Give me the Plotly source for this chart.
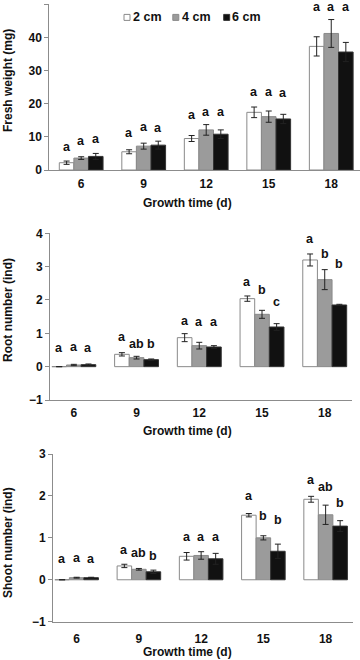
import plotly.graph_objects as go

days = ["6", "9", "12", "15", "18"]
series = ["2 cm", "4 cm", "6 cm"]

# Fresh weight (mg)
fw_2 = [2.2, 5.5, 9.5, 17.4, 37.3]
fw_4 = [3.6, 7.2, 12.1, 16.1, 41.2]
fw_6 = [4.1, 7.5, 10.8, 15.4, 35.6]
fw_2_err = [0.5, 0.6, 0.9, 1.6, 2.9]
fw_4_err = [0.4, 0.9, 1.6, 1.7, 4.2]
fw_6_err = [0.9, 1.2, 1.3, 1.4, 2.9]
fw_letters = [["a", "a", "a", "a", "a"], ["a", "a", "a", "a", "a"], ["a", "a", "a", "a", "a"]]
fw_letter_y = [[6.9, 11.2, 16.7, 23.5, 49.1], [8.7, 13.1, 17.5, 23.5, 49.1], [9.4, 12.6, 17.5, 23.3, 49.1]]

# Root number (ind)
rn_2 = [0.0, 0.37, 0.87, 2.04, 3.2]
rn_4 = [0.05, 0.27, 0.63, 1.57, 2.61]
rn_6 = [0.06, 0.21, 0.59, 1.19, 1.85]
rn_2_err = [0.0, 0.05, 0.12, 0.08, 0.18]
rn_4_err = [0.02, 0.04, 0.10, 0.12, 0.30]
rn_6_err = [0.02, 0.02, 0.04, 0.10, 0.02]
rn_letters = [["a", "a", "a", "a", "a"], ["a", "ab", "a", "b", "b"], ["a", "b", "a", "c", "b"]]
rn_letter_y = [[0.57, 0.90, 1.36, 2.55, 3.84], [0.60, 0.68, 1.33, 2.31, 3.39], [0.57, 0.68, 1.33, 1.95, 3.07]]

# Shoot number (ind)
sn_2 = [0.0, 0.33, 0.56, 1.54, 1.92]
sn_4 = [0.05, 0.25, 0.58, 1.0, 1.55]
sn_6 = [0.05, 0.19, 0.50, 0.68, 1.28]
sn_2_err = [0.0, 0.04, 0.09, 0.04, 0.07]
sn_4_err = [0.01, 0.02, 0.09, 0.05, 0.23]
sn_6_err = [0.01, 0.04, 0.13, 0.17, 0.13]
sn_letters = [["a", "a", "a", "a", "a"], ["a", "ab", "a", "b", "ab"], ["a", "b", "a", "b", "b"]]
sn_letter_y = [[0.49, 0.72, 1.02, 2.0, 2.37], [0.52, 0.63, 1.02, 1.52, 2.22], [0.49, 0.57, 1.02, 1.42, 1.82]]

fills = ["#ffffff", "#9b9b9b", "#111111"]
outlines = ["#8a8a8a", "#8a8a8a", "#333333"]
FONT = "Liberation Sans"
TXT = "#111111"

W, H = 360, 660
panels = [
    dict(vals=[fw_2, fw_4, fw_6], errs=[fw_2_err, fw_4_err, fw_6_err], letters=fw_letters, ly=fw_letter_y,
         ytitle="Fresh weight (mg)", yrange=[0, 50], dtick=10, ytitle_px=81, xtitle_px=203, xlab_len=3,
         ydom=[1 - 170 / H, 1 - 4.3 / H], xpx=[49.3, 360], xrange=[-0.51, 4.46]),
    dict(vals=[rn_2, rn_4, rn_6], errs=[rn_2_err, rn_4_err, rn_6_err], letters=rn_letters, ly=rn_letter_y,
         ytitle="Root number (ind)", yrange=[-1, 4], dtick=1, ytitle_px=310, xtitle_px=431, xlab_len=2,
         ydom=[1 - 400 / H, 1 - 233.3 / H], xpx=[50, 351.7], xrange=[-0.38, 4.43]),
    dict(vals=[sn_2, sn_4, sn_6], errs=[sn_2_err, sn_4_err, sn_6_err], letters=sn_letters, ly=sn_letter_y,
         ytitle="Shoot number (ind)", yrange=[-1, 3], dtick=1, ytitle_px=543, xtitle_px=652, xlab_len=6,
         ydom=[1 - 621.7 / H, 1 - 454 / H], xpx=[53, 353], xrange=[-0.38, 4.44]),
]

fig = go.Figure()
annotations = []
shapes = []
bargap = 0.3
for p_i, p in enumerate(panels):
    sfx = "" if p_i == 0 else str(p_i + 1)
    xa, ya = "x" + sfx, "y" + sfx
    for s_i in range(3):
        fig.add_trace(go.Bar(
            x=days, y=p["vals"][s_i], name=series[s_i],
            marker=dict(color=fills[s_i], line=dict(color=outlines[s_i], width=1)),
            error_y=dict(type="data", array=p["errs"][s_i], color="#222222", thickness=1, width=3),
            xaxis=xa, yaxis=ya, showlegend=False, legendgroup=series[s_i],
        ))
    w = (1 - bargap) / 3
    for s_i in range(3):
        for d_i in range(len(days)):
            annotations.append(dict(
                x=d_i + (s_i - 1) * w, y=p["ly"][s_i][d_i], xref=xa, yref=ya,
                text=p["letters"][s_i][d_i], showarrow=False,
                font=dict(family=FONT, size=12.5, color=TXT, weight="bold"), yanchor="middle", xanchor="center"))
    # axis titles
    annotations.append(dict(x=8 / W, y=1 - p["ytitle_px"] / H, xref="paper", yref="paper",
                            text=p["ytitle"], textangle=-90, showarrow=False,
                            font=dict(family=FONT, size=12, color=TXT, weight="bold"),
                            xanchor="center", yanchor="middle"))
    annotations.append(dict(x=187 / W, y=1 - p["xtitle_px"] / H, xref="paper", yref="paper",
                            text="Growth time (d)", showarrow=False,
                            font=dict(family=FONT, size=12, color=TXT, weight="bold"),
                            xanchor="center", yanchor="middle"))
    axis_common = dict(showline=True, linecolor="#8c8c8c", linewidth=1, showgrid=False, zeroline=False,
                       tickfont=dict(family=FONT, size=12, color=TXT, weight="bold"), automargin=False)
    fig.layout["xaxis" + sfx] = dict(
        axis_common, domain=[p["xpx"][0] / W, p["xpx"][1] / W], anchor=ya, type="category",
        range=p["xrange"], ticks="outside", ticklen=p["xlab_len"], tickcolor="rgba(0,0,0,0)")
    fig.layout["yaxis" + sfx] = dict(
        axis_common, domain=p["ydom"], anchor=xa, range=p["yrange"], dtick=p["dtick"],
        ticks="outside", ticklen=4, tickcolor="#8c8c8c")

# compact legend (key squares + labels) in the top panel
key_cx = [127, 175.8, 226.7]
key_text_x = [130.5, 179.5, 230]
key_cy = 17.4
for s_i in range(3):
    shapes.append(dict(type="rect", xref="paper", yref="paper",
                       x0=(key_cx[s_i] - 3) / W, x1=(key_cx[s_i] + 3) / W,
                       y0=1 - (key_cy + 3) / H, y1=1 - (key_cy - 3) / H,
                       fillcolor=fills[s_i], line=dict(color=outlines[s_i], width=1)))
    annotations.append(dict(x=key_text_x[s_i] / W, y=1 - key_cy / H, xref="paper", yref="paper",
                            text=series[s_i], showarrow=False, xanchor="left", yanchor="middle",
                            font=dict(family=FONT, size=12.5, color=TXT, weight="bold")))

fig.update_layout(
    width=W, height=H, barmode="group", bargap=bargap, bargroupgap=0,
    margin=dict(l=0, r=0, t=0, b=0), plot_bgcolor="white", paper_bgcolor="white",
    annotations=annotations, shapes=shapes, showlegend=False,
)
fig.write_html("out.html", config={"displayModeBar": False},
               post_script="document.body.style.margin='0';document.body.style.overflow='hidden';")
